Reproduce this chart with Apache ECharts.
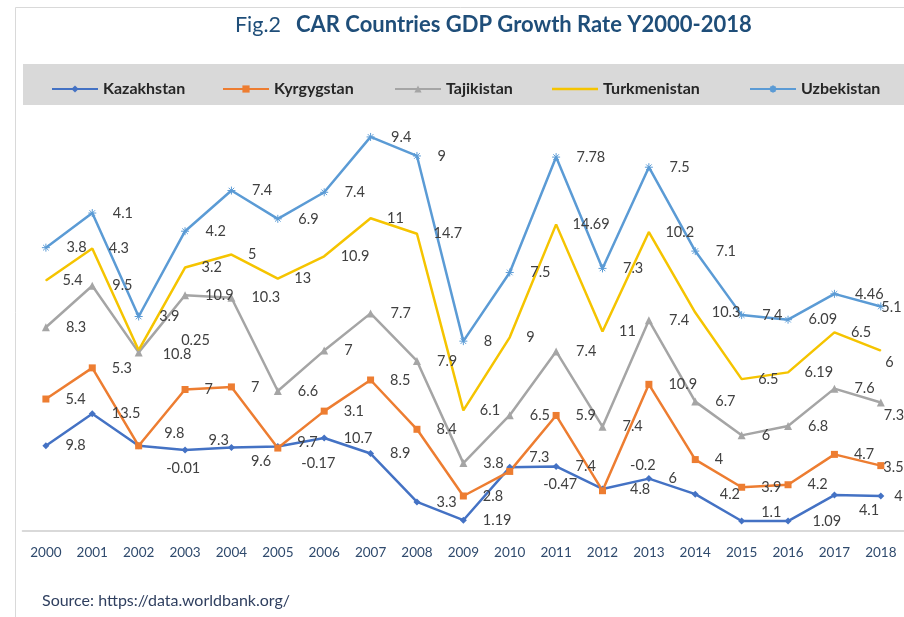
<!DOCTYPE html>
<html>
<head>
<meta charset="utf-8">
<script src="https://cdn.jsdelivr.net/npm/echarts@6/dist/echarts.min.js"></script>
<style>
html, body { margin: 0; padding: 0; background: #fff; }
#main { width: 904px; height: 617px; }
</style>
</head>
<body>
<div id="main"></div>
<script>
// data (the labels are the yearly values, lines are stacked)
var years = ['2000','2001','2002','2003','2004','2005','2006','2007','2008','2009','2010','2011','2012','2013','2014','2015','2016','2017','2018'];
var countries = ['Kazakhstan', 'Kyrgygstan', 'Tajikistan', 'Turkmenistan', 'Uzbekistan'];
var kazakhstan   = [9.8, 13.5, 9.8, 9.3, 9.6, 9.7, 10.7, 8.9, 3.3, 1.19, 7.3, 7.4, 4.8, 6, 4.2, 1.1, 1.09, 4.1, 4];
var kyrgyzstan   = [5.4, 5.3, -0.01, 7, 7, -0.17, 3.1, 8.5, 8.4, 2.8, -0.47, 5.9, -0.2, 10.9, 4, 3.9, 4.2, 4.7, 3.5];
var tajikistan   = [8.3, 9.5, 10.8, 10.9, 10.3, 6.6, 7, 7.7, 7.9, 3.8, 6.5, 7.4, 7.4, 7.4, 6.7, 6, 6.8, 7.6, 7.3];
var turkmenistan = [5.4, 4.3, 0.25, 3.2, 5, 13, 10.9, 11, 14.7, 6.1, 9, 14.69, 11, 10.2, 10.3, 6.5, 6.19, 6.5, 6];
var uzbekistan   = [3.8, 4.1, 3.9, 4.2, 7.4, 6.9, 7.4, 9.4, 9, 8, 7.5, 7.78, 7.3, 7.5, 7.1, 7.4, 6.09, 4.46, 5.1];

var colors = ['#4472C4', '#ED7D31', '#A5A5A5', '#F5C400', '#5B9BD5'];
var legendLeft = [46, 217, 389, 547, 744];
var font = 'Lato, "Open Sans", sans-serif';

// labels that were moved by hand in the original: [series, year index, dx, dy]
var labelMoves = [
    [0, 2, 6, -12], [0, 3, 4, -10], [0, 4, 0, 14], [0, 5, 0, -4], [0, 10, 0, -10],
    [0, 12, 8, 0], [0, 14, 5, 0], [0, 15, 0, -9], [0, 16, 5, 0], [0, 17, 5, 15], [0, 18, -6, 0],
    [1, 2, 8, 23], [1, 5, 4, 15], [1, 10, 14, 13], [1, 12, 8, -25], [1, 18, -17, 2],
    [2, 2, 4, 2], [2, 18, -17, 13],
    [3, 2, 26, -10], [3, 18, -12, 12],
    [4, 18, -20, 1]
];

var myChart = echarts.init(document.getElementById('main'));

function makeSeries(idx, values, symbol, size) {
    var color = colors[idx];
    var data = values.map(function (v, i) {
        var item = { value: v };
        labelMoves.forEach(function (m) {
            if (m[0] === idx && m[1] === i) {
                item.label = { offset: [m[2], m[3]] };
            }
        });
        return item;
    });
    return {
        name: countries[idx],
        type: 'line',
        stack: 'total',
        stackStrategy: 'all',
        data: data,
        symbol: symbol,
        symbolSize: size,
        lineStyle: { color: color, width: 2.5 },
        itemStyle: { color: color },
        label: {
            show: true,
            position: 'right',
            distance: 16,
            color: '#404040',
            fontSize: 14.5,
            fontFamily: font
        },
        z: 3
    };
}

var star = 'path://M5,0L5,10M0,5L10,5M1.5,1.5L8.5,8.5M8.5,1.5L1.5,8.5';

var series = [
    makeSeries(0, kazakhstan, 'diamond', 7),
    makeSeries(1, kyrgyzstan, 'rect', 7),
    makeSeries(2, tajikistan, 'triangle', 8),
    makeSeries(3, turkmenistan, 'circle', 1),
    makeSeries(4, uzbekistan, star, 8)
];
series[4].itemStyle = { color: colors[4], borderColor: colors[4], borderWidth: 1 };

var legends = countries.map(function (c, i) {
    var item = { name: c };
    if (i === 3) {
        item.icon = 'path://M0,4L46,4L46,6.5L0,6.5Z';
    }
    return {
        data: [item],
        left: legendLeft[i],
        top: 76,
        itemWidth: 46,
        itemHeight: 9,
        textStyle: { color: '#262626', fontSize: 16, fontWeight: 'bold', fontFamily: font }
    };
});

var option = {
    animation: false,
    color: colors,
    title: {
        text: '{a|Fig.2}   {b|CAR Countries GDP Growth Rate Y2000-2018}',
        left: 230,
        top: 9,
        textStyle: {
            rich: {
                a: { color: '#1F4E79', fontSize: 21.5, fontWeight: 'normal', fontFamily: font },
                b: { color: '#1F4E79', fontSize: 22, fontWeight: 'bold', fontFamily: font }
            }
        }
    },
    legend: legends,
    grid: { left: 22.7, width: 884.6, top: 98, height: 432.5 },
    xAxis: {
        type: 'category',
        data: years,
        boundaryGap: true,
        axisLine: { lineStyle: { color: '#D9D9D9', width: 2 } },
        axisTick: { show: false },
        axisLabel: { color: '#2F4A6D', fontSize: 13.5, margin: 15, fontFamily: font }
    },
    yAxis: {
        type: 'value',
        min: 0,
        max: 50,
        show: false,
        splitLine: { show: false }
    },
    graphic: [
        {
            type: 'rect', silent: true, z: -10,
            shape: { x: 15.5, y: 7.5, width: 900, height: 620 },
            style: { fill: 'none', stroke: '#D9D9D9', lineWidth: 1 }
        },
        {
            type: 'rect', silent: true, z: -9,
            shape: { x: 23, y: 64, width: 881, height: 41 },
            style: { fill: '#D9D9D9' }
        },
        {
            type: 'text', left: 42, top: 593,
            style: { text: 'Source: https://data.worldbank.org/', fill: '#2F3F5F', fontSize: 16, fontFamily: font }
        }
    ],
    series: series
};

myChart.setOption(option);
</script>
</body>
</html>
